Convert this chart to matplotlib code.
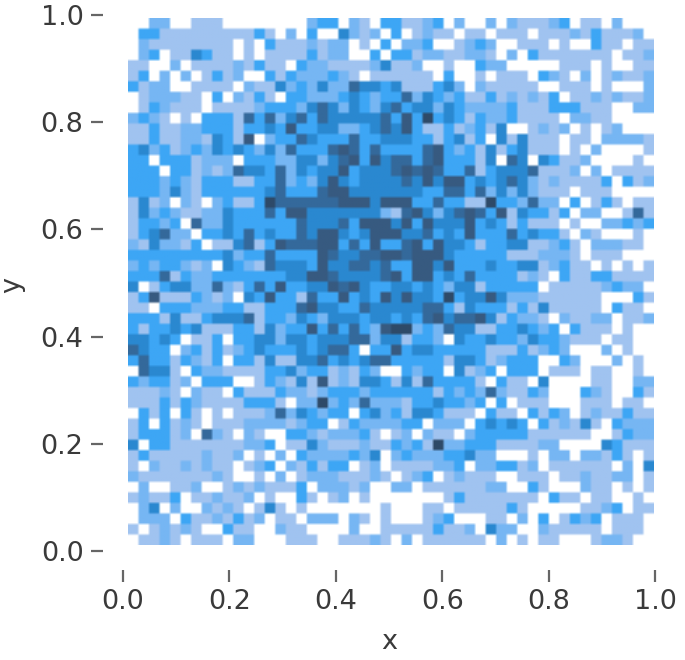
import numpy as np
import matplotlib
matplotlib.use('Agg')
import matplotlib.pyplot as plt
from matplotlib.colors import ListedColormap

# shade level of each bin, top row first (0 = empty)
rows = [
    "00220 01110 00000 00233 02103 31123 02002 02111 23011 02000",
    "03311 11111 11310 20300 42120 30121 10110 11101 11213 11120",
    "02111 11111 01031 11212 20103 02230 01232 00111 01003 11011",
    "02301 14311 01011 11312 20030 33122 11221 02031 11111 10112",
    "11002 01111 21311 03221 11124 11200 10032 20000 01110 10011",
    "13020 20131 20031 32223 21011 11110 30010 11103 21020 12112",
    "31220 01111 02114 23242 25443 41113 42021 11110 01110 10002",
    "01222 11030 21310 33222 34323 35243 23113 12121 30112 12112",
    "01321 11011 11233 32454 24324 53442 43222 23111 33311 10022",
    "23210 10333 15352 45354 44445 36373 43132 23111 10221 10000",
    "11311 22333 13343 63344 22345 46311 31231 40012 12010 12000",
    "11311 22143 16023 35433 35334 44331 34130 41411 10110 22221",
    "34231 23243 43242 53335 65353 33356 32314 13411 10102 00001",
    "33033 31222 03332 24424 56364 55356 33314 05404 31120 00010",
    "33303 31212 54435 24344 63444 56565 33513 44451 11202 01111",
    "33323 21333 11335 23246 43444 45464 66343 45421 21111 30312",
    "33324 21333 33345 33356 64444 44433 55352 42421 11011 10000",
    "14120 21023 11375 55555 66646 66335 33117 33252 20301 31011",
    "14232 11224 33353 66444 44442 15642 45653 61433 13022 00151",
    "13323 05224 33333 35444 53666 46364 44634 31311 10100 22323",
    "13452 20334 35343 35466 43466 64453 43633 35343 31021 00010",
    "21422 13011 45136 55566 35363 35636 44313 34411 23102 22110",
    "33333 33334 23353 33365 44556 65666 43333 31112 22101 11000",
    "23233 21204 32154 44364 45545 33664 63334 33441 23110 10101",
    "33351 32233 33333 44665 44445 63663 43533 33121 03113 31111",
    "40134 42252 13536 33446 56433 44343 24413 33330 11111 23220",
    "13611 13212 04363 31533 63436 46443 73446 42221 11111 00031",
    "11033 32223 31133 35644 33544 44455 31433 31314 11111 03110",
    "33314 11344 45133 24324 44344 34356 45564 13221 02112 20112",
    "31334 34111 33142 33635 35326 77232 54411 33432 30311 10100",
    "44343 01130 33442 44344 45524 41332 04334 33243 32111 01100",
    "54330 23131 23433 34345 53033 63443 33331 11312 32000 20100",
    "35331 32130 33141 14453 43455 33333 14431 23330 03200 02010",
    "05441 03221 11133 42331 21320 03233 04123 03330 11101 10010",
    "32331 20333 00132 14161 21443 14153 33310 31104 00001 10022",
    "11121 02110 31113 22123 33233 33331 32325 21132 00032 10031",
    "11131 32111 13331 02272 32522 21334 33230 30111 00011 10110",
    "03130 31010 11125 24323 30342 31443 11103 11031 32012 11311",
    "13031 21011 12222 12330 13222 23302 22034 34303 12141 03222",
    "13331 20521 02100 33212 22310 12021 10233 33311 11110 01322",
    "40331 11111 12230 11421 11211 32317 22333 11112 20000 43111",
    "13111 11211 20102 03222 23240 23222 33422 00010 22022 13101",
    "10211 21211 01230 21313 30120 11112 23022 33120 11111 10204",
    "21111 11121 00102 01222 11121 01230 12111 00111 01121 12201",
    "02001 12001 21211 13022 21200 22011 11112 20031 00021 10101",
    "12113 01121 12010 03101 20100 00000 13111 11110 31101 10010",
    "02402 00212 10141 01000 00001 00011 01111 13100 00011 23011",
    "02220 31121 31201 10222 02101 00012 30001 10203 01323 01110",
    "10121 21003 11002 11000 02001 11113 11204 22002 11111 01110",
    "01121 01110 22000 11100 11121 02011 11110 20101 10001 22100",
]
x_ticks = [0.0, 0.2, 0.4, 0.6, 0.8, 1.0]
y_ticks = [0.0, 0.2, 0.4, 0.6, 0.8, 1.0]
shades = ['#FFFFFF', '#A0C3F0', '#76B6F3', '#3DA6F5', '#2A88D0', '#34699B', '#375A80', '#2E4A68']

counts = np.array([[int(ch) for ch in row.replace(' ', '')] for row in rows])[::-1]
cmap = ListedColormap(shades)

fig = plt.figure(figsize=(6.85, 6.6), dpi=100)
ax = fig.add_axes([103 / 685, (660 - 570) / 660, (675 - 103) / 685, 570 / 660])

# repeat each bin so bilinear only softens the cell edges, the reference is an upscaled image
soft = cmap(counts).repeat(4, axis=0).repeat(4, axis=1)
ax.imshow(soft, origin='lower', extent=[0.009, 0.997, 0.011, 0.9925], aspect='auto', interpolation='bilinear')

ax.set_xlim(-0.0376, 1.0376)
ax.set_ylim(-0.0354, 1.028)
ax.set_xticks(x_ticks)
ax.set_yticks(y_ticks)
ax.tick_params(labelsize=19.5, length=8.5, width=1.6, color='#666666', labelcolor='#3a3a3a', pad=5.5)
ax.set_xlabel('x', fontsize=19.5, color='#3a3a3a', labelpad=10)
ax.set_ylabel('y', fontsize=19.5, color='#3a3a3a', labelpad=11)
for spine in ax.spines.values():
    spine.set_visible(False)

plt.savefig('out.png')
plt.close()
